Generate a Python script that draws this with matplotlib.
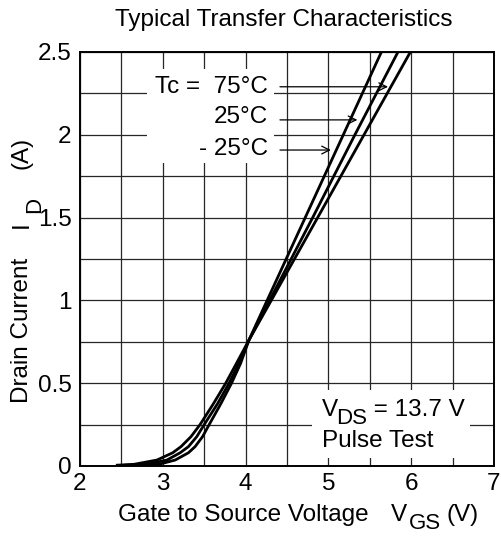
import numpy as np
import matplotlib.pyplot as plt
from matplotlib.patches import Rectangle

plt.rcParams['font.family'] = ['Liberation Sans', 'DejaVu Sans']

# drain current points (A)
id_pts = [0.005, 0.01, 0.036, 0.08, 0.117, 0.177, 0.25, 0.375, 0.5, 0.62, 0.76,
          1.0, 1.25, 1.5, 2.0, 2.25, 2.5]
# gate-source voltage for each case temperature (V)
vgs_75 = [2.45, 2.65, 2.93, 3.12, 3.22, 3.34, 3.45, 3.61, 3.76, 3.89, 4.04,
          4.31, 4.59, 4.87, 5.43, 5.71, 5.99]
vgs_25 = [2.55, 2.80, 3.05, 3.21, 3.31, 3.41, 3.50, 3.66, 3.80, 3.92, 4.04,
          4.29, 4.55, 4.81, 5.32, 5.58, 5.84]
vgs_m25 = [2.70, 2.95, 3.15, 3.31, 3.39, 3.48, 3.56, 3.70, 3.83, 3.94, 4.04,
           4.26, 4.49, 4.72, 5.18, 5.41, 5.64]

temp_labels = ['Tc =  75\u00b0C', '25\u00b0C', '- 25\u00b0C']
x_ticks = [2, 3, 4, 5, 6, 7]
y_ticks = [0, 0.5, 1, 1.5, 2, 2.5]
y_tick_labels = ['0', '0.5', '1', '1.5', '2', '2.5']

W, H = 502, 536
fs = 17.5
fs_sub = 16

fig = plt.figure(figsize=(W / 100, H / 100), dpi=100)
ax = fig.add_axes([80 / W, (H - 466) / H, 414 / W, 414 / H])

ax.set_xlim(2, 7)
ax.set_ylim(0, 2.5)
ax.set_xticks(x_ticks)
ax.set_xticklabels([str(t) for t in x_ticks])
ax.set_yticks(y_ticks)
ax.set_yticklabels(y_tick_labels)
ax.set_xticks(np.arange(2, 7.01, 0.5), minor=True)
ax.set_yticks(np.arange(0, 2.51, 0.25), minor=True)
ax.grid(which='both', color='0.15', lw=0.9)
ax.tick_params(which='both', length=0, labelsize=fs)
ax.tick_params(axis='x', pad=5)
ax.tick_params(axis='y', pad=6)
for s in ax.spines.values():
    s.set_linewidth(1.4)
ax.set_axisbelow(True)

# white patches behind the notes
ax.add_patch(Rectangle((2.81, 1.83), 1.53, 0.57, facecolor='white', edgecolor='none', zorder=1.5))
ax.add_patch(Rectangle((4.80, 0.048), 1.91, 0.41, facecolor='white', edgecolor='none', zorder=1.5))

for v in [vgs_75, vgs_25, vgs_m25]:
    ax.plot(v, id_pts, color='black', lw=2.0, zorder=3)

# temperature labels with arrows
label_y = [2.25, 2.07, 1.878]
arrow_y = [2.29, 2.09, 1.908]
arrow_tip = [5.72, 5.35, 5.03]
for lab, ly, ay, tip in zip(temp_labels, label_y, arrow_y, arrow_tip):
    ax.text(4.27, ly, lab, ha='right', va='baseline', fontsize=fs, zorder=4)
    ax.annotate('', xy=(tip, ay), xytext=(4.415, ay),
                arrowprops=dict(arrowstyle='->', color='black', lw=0.9,
                                shrinkA=0, shrinkB=0, mutation_scale=14), zorder=4)


def px_text(x, y, s, size=fs, **kw):
    fig.text(x / W, (H - y) / H, s, fontsize=size, **kw)


# V_DS note
px_text(322, 416, 'V', va='baseline')
px_text(336, 424, 'DS', size=fs_sub, va='baseline')
px_text(367, 416, ' = 13.7 V', va='baseline')
px_text(322, 447, 'Pulse Test', va='baseline')

# title
px_text(284, 26, 'Typical Transfer Characteristics', ha='center', va='baseline')

# x label
px_text(118, 521, 'Gate to Source Voltage', va='baseline')
px_text(391, 521, 'V', va='baseline')
px_text(409, 529, 'GS', size=fs_sub, va='baseline')
px_text(447, 521, '(V)', va='baseline')

# y label (rotated)
px_text(28, 403, 'Drain Current', rotation=90, rotation_mode='anchor', ha='left', va='baseline')
px_text(28, 228, 'I', rotation=90, rotation_mode='anchor', ha='left', va='baseline')
px_text(40, 213, 'D', size=fs_sub, rotation=90, rotation_mode='anchor', ha='left', va='baseline')
px_text(28, 169, '(A)', rotation=90, rotation_mode='anchor', ha='left', va='baseline')

plt.savefig('out.png', dpi=100)
